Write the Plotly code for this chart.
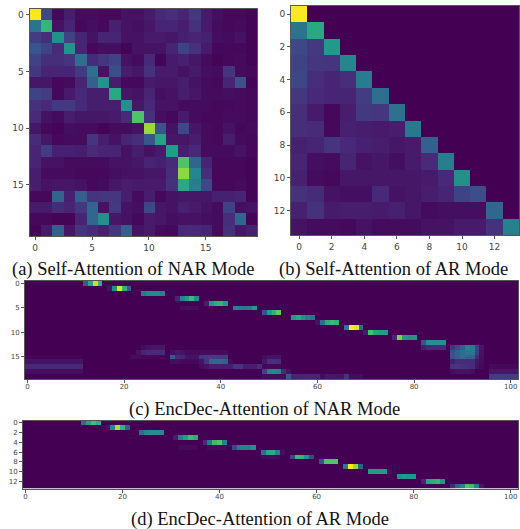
import plotly.graph_objects as go

W, H = 520, 529
SELF_NAR = [
 [1.0,.22,.02,.08,.03,.03,.02,.02,.05,.05,.07,.11,.13,.1,.17,.07,.04,.02,.02,.01],
 [.38,.66,.05,.1,.02,.04,.02,.09,.05,.04,.06,.1,.1,.08,.14,.07,.03,.02,.03,.01],
 [.18,.13,.5,.2,.1,.05,.1,.1,.05,.05,.07,.07,.06,.09,.1,.09,.04,.03,.05,.01],
 [.27,.2,.12,.52,.1,.02,.04,.04,.01,.05,.05,.05,.1,.2,.14,.07,.02,.02,.02,.01],
 [.2,.13,.13,.15,.36,.12,.16,.2,.05,.03,.11,.01,.07,.09,.06,.03,.01,.02,.03,.01],
 [.16,.1,.1,.1,.17,.36,.05,.24,.08,.06,.14,.07,.07,.05,.07,.04,.03,.15,.03,.02],
 [.06,.06,.02,.03,.1,.3,.52,.08,.02,.02,.07,.06,.06,.08,.05,.03,.02,.1,.25,.01],
 [.2,.18,.02,.07,.11,.08,.08,.6,.06,.05,.1,.04,.05,.08,.06,.03,.03,.04,.03,.02],
 [.14,.12,.17,.17,.11,.08,.08,.08,.5,.06,.11,.05,.05,.03,.03,.03,.02,.02,.03,.02],
 [.12,.05,.03,.08,.06,.06,.06,.07,.12,.72,.14,.04,.02,.07,.03,.02,.02,.03,.03,.02],
 [.06,.02,.01,.04,.03,.03,.01,.03,.03,.05,.85,.26,.05,.22,.06,.03,.02,.05,.02,.03],
 [.12,.06,.02,.03,.03,.15,.08,.05,.1,.13,.27,.58,.06,.06,.08,.03,.02,.08,.03,.02],
 [.1,.18,.09,.09,.08,.12,.1,.1,.05,.08,.05,.07,.55,.08,.11,.03,.03,.03,.05,.02],
 [.1,.05,.05,.03,.03,.03,.03,.05,.05,.06,.1,.09,.12,.72,.32,.1,.02,.02,.02,.01],
 [.08,.03,.03,.03,.02,.02,.02,.04,.05,.05,.06,.06,.13,.83,.46,.13,.02,.02,.02,.01],
 [.08,.05,.06,.06,.05,.02,.03,.06,.08,.07,.07,.07,.14,.6,.43,.22,.02,.02,.03,.01],
 [.02,.02,.32,.09,.3,.15,.16,.16,.08,.03,.08,.02,.05,.06,.06,.06,.09,.09,.1,.01],
 [.07,.07,.12,.1,.16,.33,.05,.17,.05,.04,.22,.06,.05,.09,.07,.05,.03,.2,.04,.05],
 [.02,.02,.01,.01,.1,.33,.5,.06,.05,.02,.07,.06,.04,.05,.05,.04,.03,.13,.33,.01],
 [.01,.07,.3,.06,.15,.12,.09,.16,.3,.05,.07,.03,.02,.11,.12,.1,.03,.14,.06,.09],
]
SELF_AR_ROWS = [
 [1.0],
 [.38,.6],
 [.22,.17,.54],
 [.2,.16,.15,.46],
 [.21,.13,.1,.13,.42],
 [.16,.11,.1,.1,.18,.36],
 [.13,.07,.02,.08,.17,.16,.37],
 [.13,.12,.02,.09,.08,.07,.08,.4],
 [.09,.1,.15,.11,.09,.08,.06,.07,.3],
 [.1,.04,.03,.1,.05,.06,.04,.07,.12,.43],
 [.09,.03,.02,.06,.06,.06,.06,.06,.07,.11,.5],
 [.14,.12,.05,.04,.04,.11,.05,.06,.08,.1,.2,.24],
 [.09,.14,.07,.08,.08,.07,.09,.06,.03,.04,.04,.04,.33],
 [.05,.03,.03,.02,.05,.03,.03,.03,.05,.05,.07,.07,.14,.44],
]
# (row, first column, values)
ENCDEC_NAR_RUNS = [
 (0,12,[.28,.6,.92,.65]), (1,17,[.05,.5,.95,.65,.3]), (2,24,[.4,.48,.48,.48,.45]),
 (3,31,[.1,.45,.55,.68,.5]), (4,37,[.08,.55,.62,.65,.55]), (5,43,[.45,.42,.4,.42,.55]),
 (5,32,[.03,.04,.03,.03]),
 (6,49,[.25,.55,.65,.75]), (7,55,[.55,.6,.5,.42,.38]), (8,60,[.05,.35,.62,.68,.65]),
 (9,66,[.4,1.0,.95,.35]), (10,70,[.07,.7,.58,.55,.55]), (11,76,[.1,.8,.55,.5,.52]),
 (12,82,[.25,.5,.5,.5,.5]), (13,82,[.08,.12,.12,.12,.12]),
 (13,88,[.15,.22,.3,.45,.42,.2,.06]), (14,88,[.25,.3,.35,.4,.4,.18,.05]),
 (15,88,[.25,.3,.35,.32,.3,.12,.04]), (16,88,[.08,.12,.12,.12,.12,.06,.03]),
 (17,88,[.14,.16,.14,.13,.12,.05,.02]), (18,88,[.04,.05,.05,.05,.04]),
 (18,96,[.06,.06,.06,.06,.06,.06]), (19,96,[.18,.18,.18,.18,.18,.18]), (17,96,[.02,.02,.02,.02,.02,.02]),
 (19,54,[.28,.1,.1,.1,.1,.1,.1,.03,.06,.06,.06,.06,.15,.03,.03,.03]),
 (15,0,[.015]*12), (16,0,[.05]*12), (17,0,[.11]*12), (18,0,[.04]*12),
 (13,24,[.03,.05,.06,.06,.06]), (14,23,[.05,.1,.12,.12,.12,.12]), (15,22,[.03,.03,.02,.02,.02,.02,.02]),
 (14,30,[.04,.06,.05,.03,.03,.03,.03,.03,.03,.03,.03,.03]),
 (15,30,[.28,.12,.1,.05,.05,.05,.15,.18,.18,.18,.18,.18]),
 (16,30,[.04,.04,.02,.02,.02,.02,.05,.15,.33,.33,.33,.3,.03]),
 (17,36,[.03,.05,.08,.08,.08,.08,.08,.15,.15,.08,.08,.08,.13]),
 (15,49,[.03,.05,.05,.05]), (16,49,[.06,.13,.14,.13]), (17,49,[.02,.02,.02,.02]),
 (18,49,[.2,.45,.47,.45,.12,.05]), (19,49,[.03,.03,.03,.03,.03]),
]
ENCDEC_AR_RUNS = [
 (0,12,[.35,.58,.7,.62]), (1,17,[.05,.48,.88,.65,.3]), (2,24,[.35,.48,.5,.5,.48]),
 (3,31,[.07,.42,.55,.68,.62]), (4,37,[.12,.4,.68,.72,.45]), (5,43,[.22,.42,.45,.45,.5]),
 (5,32,[.02,.03,.03,.02]), (5,38,[.02,.03,.03,.02]), (7,49,[.02,.03,.03,.02]),
 (6,49,[.35,.6,.62,.45,.04]), (7,55,[.22,.68,.65,.5,.22]), (8,61,[.25,.72,.72,.72]),
 (9,66,[.4,1.0,.85,.3]), (10,71,[.55,.55,.55,.55,.04]), (11,77,[.5,.55,.52,.52]),
 (12,82,[.1,.58,.62,.65,.52]), (13,88,[.1,.3,.45,.72,.68,.42,.06]),
]
X_TICKS_NAR = [0, 5, 10, 15]
X_TICKS_AR = [0, 2, 4, 6, 8, 10, 12]
X_TICKS_LONG = [0, 20, 40, 60, 80, 100]
CAPTIONS = ["(a) Self-Attention of NAR Mode", "(b) Self-Attention of AR Mode",
            "(c) EncDec-Attention of NAR Mode", "(d) EncDec-Attention of AR Mode"]


def grid(rows, cols, runs):
    z = [[0.0] * cols for _ in range(rows)]
    for r, c0, vals in runs:
        for i, v in enumerate(vals):
            z[r][c0 + i] = v
    return z


SELF_AR = [row + [0.0] * (14 - len(row)) for row in SELF_AR_ROWS]
panels = [
    (SELF_NAR, (29.5, 257, 9, 236), X_TICKS_NAR, X_TICKS_NAR, 9, 0),
    (SELF_AR, (291, 519, 6, 235), X_TICKS_AR, X_TICKS_AR, 9, 0),
    (grid(20, 102, ENCDEC_NAR_RUNS), (25, 518, 281, 379), X_TICKS_LONG, X_TICKS_NAR, 7, -2),
    (grid(14, 102, ENCDEC_AR_RUNS), (23, 518, 420.5, 488.5), X_TICKS_LONG, X_TICKS_AR, 7, -2),
]
caption_pos = [(133.5, 269), (393, 269), (264, 409), (260, 519)]

fig = go.Figure()
layout = {}
for i, (z, (x0, x1, y0, y1), xt, yt, fs, standoff) in enumerate(panels, start=1):
    fig.add_trace(go.Heatmap(z=z, colorscale="Viridis", zmin=0, zmax=1, showscale=False,
                             xaxis=f"x{i}", yaxis=f"y{i}", hoverinfo="skip"))
    n_rows, n_cols = len(z), len(z[0])
    axis = dict(showgrid=False, zeroline=False, showline=True, mirror=True, linecolor="#555555",
                linewidth=1, ticks="outside", ticklen=3, tickwidth=1, tickcolor="#555555",
                tickfont=dict(family="DejaVu Sans", size=fs, color="#444444"))
    layout[f"xaxis{i}"] = dict(axis, domain=[x0 / W, x1 / W], range=[-0.5, n_cols - 0.5],
                               tickvals=xt, anchor=f"y{i}", ticklabelstandoff=standoff)
    layout[f"yaxis{i}"] = dict(axis, domain=[1 - y1 / H, 1 - y0 / H], range=[n_rows - 0.5, -0.5],
                               tickvals=yt, anchor=f"x{i}")

ann = [dict(text=t, x=x / W, y=1 - y / H, xref="paper", yref="paper", showarrow=False,
            xanchor="center", yanchor="middle",
            font=dict(family="Liberation Serif", size=18.5, color="#111111"))
       for t, (x, y) in zip(CAPTIONS, caption_pos)]
fig.update_layout(width=W, height=H, margin=dict(l=0, r=0, t=0, b=0), paper_bgcolor="white",
                  plot_bgcolor="white", showlegend=False, annotations=ann, **layout)
fig.write_html("out.html", config=dict(displayModeBar=False),
               post_script="document.body.style.margin='0';document.body.style.overflow='hidden';")
